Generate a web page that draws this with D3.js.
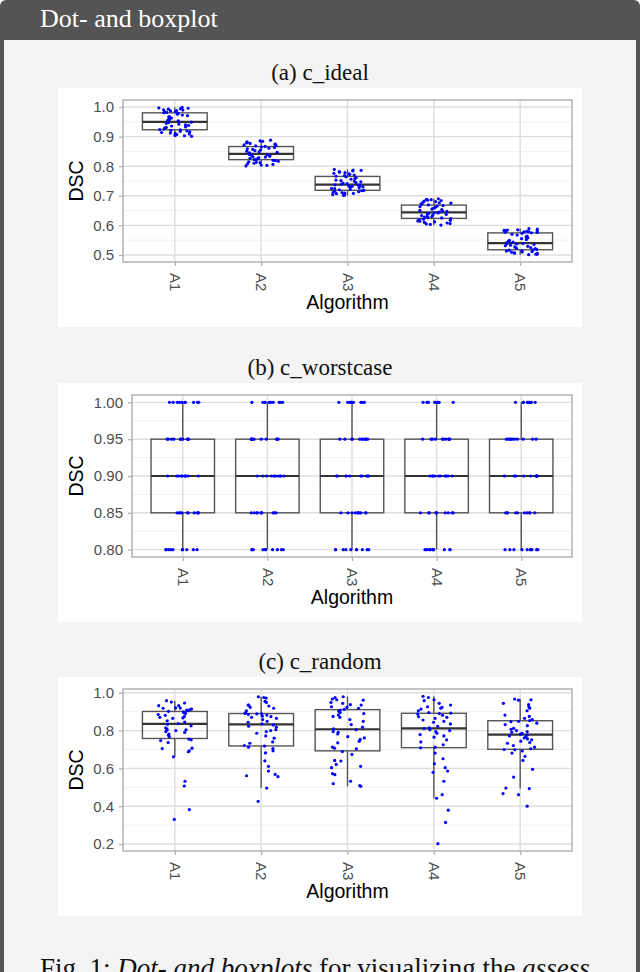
<!DOCTYPE html>
<html>
<head>
<meta charset="utf-8">
<script src="https://cdn.jsdelivr.net/npm/d3@7"></script>
<style>
  body { margin: 0; background: #ffffff; }
  svg { display: block; }
</style>
</head>
<body>
<div id="container"></div>
<script>
let width = 640;
let height = 972;

let sans = "'Liberation Sans', Arial, Helvetica, sans-serif";
let serif = "'Liberation Serif', 'Times New Roman', serif";

let algorithms = ["A1", "A2", "A3", "A4", "A5"];
let panelTitles = ["(a) c_ideal", "(b) c_worstcase", "(c) c_random"];

// c_ideal: DSC per case
let ideal_A1 = [0.901, 0.903, 0.904, 0.907, 0.909, 0.911, 0.912, 0.914, 0.916, 0.918, 0.919, 0.921,
  0.923, 0.924, 0.926, 0.929, 0.931, 0.933, 0.936, 0.938, 0.940, 0.942, 0.945, 0.947,
  0.949, 0.951, 0.953, 0.955, 0.958, 0.961, 0.963, 0.966, 0.968, 0.971, 0.973, 0.976,
  0.979, 0.981, 0.982, 0.984, 0.985, 0.987, 0.988, 0.990, 0.991, 0.993, 0.994, 0.996, 0.997, 0.999];
let ideal_A2 = [0.801, 0.803, 0.804, 0.806, 0.808, 0.810, 0.812, 0.813, 0.815, 0.817, 0.819, 0.820,
  0.822, 0.823, 0.825, 0.827, 0.829, 0.831, 0.832, 0.834, 0.835, 0.837, 0.839, 0.840,
  0.841, 0.843, 0.845, 0.847, 0.849, 0.851, 0.853, 0.855, 0.857, 0.859, 0.861, 0.863,
  0.865, 0.867, 0.869, 0.870, 0.872, 0.874, 0.875, 0.877, 0.879, 0.880, 0.882, 0.884, 0.886, 0.888];
let ideal_A3 = [0.701, 0.702, 0.704, 0.705, 0.707, 0.708, 0.709, 0.711, 0.712, 0.714, 0.715, 0.717,
  0.718, 0.720, 0.722, 0.724, 0.725, 0.727, 0.729, 0.730, 0.732, 0.733, 0.735, 0.736,
  0.737, 0.739, 0.741, 0.743, 0.745, 0.747, 0.749, 0.751, 0.753, 0.756, 0.758, 0.761,
  0.764, 0.766, 0.768, 0.770, 0.772, 0.774, 0.776, 0.778, 0.780, 0.782, 0.784, 0.786, 0.787, 0.789];
let ideal_A4 = [0.601, 0.603, 0.605, 0.606, 0.608, 0.610, 0.612, 0.614, 0.615, 0.617, 0.619, 0.621,
  0.623, 0.625, 0.626, 0.628, 0.630, 0.631, 0.633, 0.635, 0.637, 0.638, 0.640, 0.642,
  0.643, 0.645, 0.647, 0.649, 0.651, 0.653, 0.655, 0.657, 0.659, 0.661, 0.663, 0.665,
  0.667, 0.669, 0.671, 0.673, 0.675, 0.676, 0.678, 0.680, 0.682, 0.684, 0.685, 0.687, 0.688, 0.690];
let ideal_A5 = [0.501, 0.502, 0.503, 0.505, 0.506, 0.507, 0.509, 0.510, 0.511, 0.513, 0.514, 0.516,
  0.517, 0.519, 0.521, 0.523, 0.525, 0.527, 0.529, 0.531, 0.533, 0.535, 0.537, 0.538,
  0.539, 0.541, 0.543, 0.546, 0.549, 0.552, 0.555, 0.558, 0.561, 0.564, 0.567, 0.570,
  0.573, 0.575, 0.576, 0.577, 0.578, 0.579, 0.580, 0.581, 0.582, 0.583, 0.584, 0.585, 0.587, 0.589];

// c_worstcase: the DSC only takes these levels, number of cases on each level
let worstLevels = [0.80, 0.85, 0.90, 0.95, 1.00];
let worstCounts_A1 = [10, 10, 10, 10, 10];
let worstCounts_A2 = [10, 10, 10, 10, 10];
let worstCounts_A3 = [10, 10, 10, 10, 10];
let worstCounts_A4 = [10, 10, 10, 10, 10];
let worstCounts_A5 = [10, 10, 10, 10, 10];

// c_random: DSC per case
let random_A1 = [0.330, 0.382, 0.507, 0.532, 0.661, 0.688, 0.693, 0.705, 0.707, 0.737, 0.747, 0.751,
  0.755, 0.768, 0.775, 0.782, 0.790, 0.795, 0.800, 0.804, 0.805, 0.809, 0.815, 0.825,
  0.833, 0.837, 0.845, 0.852, 0.865, 0.867, 0.870, 0.875, 0.881, 0.885, 0.891, 0.895,
  0.899, 0.902, 0.905, 0.909, 0.911, 0.914, 0.918, 0.919, 0.920, 0.932, 0.932, 0.946, 0.951, 0.958];
let random_A2 = [0.426, 0.496, 0.556, 0.561, 0.568, 0.586, 0.611, 0.640, 0.682, 0.693, 0.705, 0.712,
  0.718, 0.721, 0.733, 0.740, 0.760, 0.772, 0.786, 0.795, 0.800, 0.805, 0.818, 0.823,
  0.830, 0.836, 0.844, 0.849, 0.858, 0.865, 0.870, 0.874, 0.876, 0.882, 0.885, 0.888,
  0.888, 0.891, 0.896, 0.905, 0.918, 0.923, 0.930, 0.935, 0.935, 0.949, 0.954, 0.972, 0.975, 0.979];
let random_A3 = [0.505, 0.509, 0.519, 0.532, 0.567, 0.572, 0.604, 0.611, 0.621, 0.639, 0.642, 0.674,
  0.689, 0.704, 0.707, 0.712, 0.735, 0.744, 0.753, 0.761, 0.768, 0.782, 0.791, 0.795,
  0.805, 0.809, 0.818, 0.832, 0.849, 0.858, 0.870, 0.875, 0.882, 0.890, 0.895, 0.902,
  0.907, 0.912, 0.918, 0.923, 0.926, 0.935, 0.937, 0.944, 0.949, 0.961, 0.963, 0.967, 0.975, 0.979];
let random_A4 = [0.202, 0.314, 0.379, 0.442, 0.461, 0.532, 0.579, 0.586, 0.604, 0.625, 0.651, 0.681,
  0.709, 0.712, 0.725, 0.740, 0.751, 0.765, 0.772, 0.779, 0.786, 0.795, 0.800, 0.805,
  0.810, 0.814, 0.823, 0.835, 0.844, 0.849, 0.856, 0.865, 0.870, 0.874, 0.881, 0.888,
  0.890, 0.892, 0.895, 0.905, 0.914, 0.918, 0.923, 0.926, 0.935, 0.944, 0.958, 0.963, 0.975, 0.981];
let random_A5 = [0.400, 0.461, 0.467, 0.493, 0.496, 0.554, 0.595, 0.642, 0.664, 0.681, 0.692, 0.698,
  0.700, 0.704, 0.712, 0.721, 0.733, 0.737, 0.744, 0.751, 0.756, 0.761, 0.768, 0.772,
  0.777, 0.781, 0.786, 0.791, 0.795, 0.800, 0.807, 0.812, 0.826, 0.832, 0.839, 0.847,
  0.849, 0.853, 0.858, 0.865, 0.875, 0.882, 0.905, 0.918, 0.926, 0.937, 0.944, 0.961, 0.963, 0.967];

// y tick labels of the three panels
let yTicks_ideal = [0.5, 0.6, 0.7, 0.8, 0.9, 1.0];
let yTicks_worst = [0.80, 0.85, 0.90, 0.95, 1.00];
let yTicks_random = [0.2, 0.4, 0.6, 0.8, 1.0];

function expandCounts(counts) {
  let out = [];
  counts.forEach(function (c, i) {
    for (let k = 0; k < c; k++) out.push(worstLevels[i]);
  });
  return out;
}

let panels = [
  { title: panelTitles[0], series: [ideal_A1, ideal_A2, ideal_A3, ideal_A4, ideal_A5],
    ticks: yTicks_ideal, fmt: ".1f", top: 88, left: 123, seed: 0.11 },
  { title: panelTitles[1],
    series: [worstCounts_A1, worstCounts_A2, worstCounts_A3, worstCounts_A4, worstCounts_A5].map(expandCounts),
    ticks: yTicks_worst, fmt: ".2f", top: 383, left: 132, seed: 0.37 },
  { title: panelTitles[2], series: [random_A1, random_A2, random_A3, random_A4, random_A5],
    ticks: yTicks_random, fmt: ".1f", top: 677, left: 123, seed: 0.73 }
];

let svg = d3.select("#container").append("svg")
  .attr("width", width)
  .attr("height", height);

// frame: dark header and border, light body
svg.append("rect").attr("x", 0).attr("y", 0).attr("width", width).attr("height", height + 10)
  .attr("rx", 6).attr("fill", "#545454");
svg.append("rect").attr("x", 4).attr("y", 40).attr("width", width - 8).attr("height", height)
  .attr("fill", "#f4f4f4");
svg.append("text").attr("x", 40).attr("y", 27)
  .attr("fill", "white").attr("font-family", serif).attr("font-size", 26)
  .text("Dot- and boxplot");

function boxStats(values) {
  let s = values.slice().sort(d3.ascending);
  let q1 = d3.quantileSorted(s, 0.25);
  let med = d3.quantileSorted(s, 0.5);
  let q3 = d3.quantileSorted(s, 0.75);
  let iqr = q3 - q1;
  let lo = d3.min(s.filter(v => v >= q1 - 1.5 * iqr));
  let hi = d3.max(s.filter(v => v <= q3 + 1.5 * iqr));
  return { q1, med, q3, lo, hi };
}

function drawPanel(p) {
  let top = p.top;
  let plotTop = top + 12, plotBottom = top + 174;
  let left = p.left, right = 572;

  svg.append("rect").attr("x", 58).attr("y", top).attr("width", 524).attr("height", 239)
    .attr("fill", "white");

  svg.append("text").attr("x", 320).attr("y", top - 8)
    .attr("text-anchor", "middle").attr("font-family", serif).attr("font-size", 23)
    .attr("fill", "#111").text(p.title);

  let all = p.series.flat();
  let ext = d3.extent(all);
  let pad = (ext[1] - ext[0]) * 0.05;
  let y = d3.scaleLinear().domain([ext[0] - pad, ext[1] + pad]).range([plotBottom, plotTop]);
  let x = d3.scalePoint().domain(algorithms).range([left, right]).padding(0.6);
  let step = x.step();

  // grid
  let minor = [];
  for (let i = 0; i < p.ticks.length - 1; i++) minor.push((p.ticks[i] + p.ticks[i + 1]) / 2);
  let grid = svg.append("g");
  grid.selectAll(".minor").data(minor).join("line")
    .attr("x1", left).attr("x2", right)
    .attr("y1", d => y(d)).attr("y2", d => y(d))
    .attr("stroke", "#ececec").attr("stroke-width", 0.8);
  grid.selectAll(".majorY").data(p.ticks).join("line")
    .attr("x1", left).attr("x2", right)
    .attr("y1", d => y(d)).attr("y2", d => y(d))
    .attr("stroke", "#dedede").attr("stroke-width", 1.4);
  grid.selectAll(".majorX").data(algorithms).join("line")
    .attr("x1", d => x(d)).attr("x2", d => x(d))
    .attr("y1", plotTop).attr("y2", plotBottom)
    .attr("stroke", "#dedede").attr("stroke-width", 1.4);

  // boxes
  let half = step * 0.375;
  p.series.forEach(function (vals, i) {
    let st = boxStats(vals);
    let cx = x(algorithms[i]);
    let g = svg.append("g");
    g.append("line").attr("x1", cx).attr("x2", cx).attr("y1", y(st.q3)).attr("y2", y(st.hi))
      .attr("stroke", "#555").attr("stroke-width", 1.4);
    g.append("line").attr("x1", cx).attr("x2", cx).attr("y1", y(st.q1)).attr("y2", y(st.lo))
      .attr("stroke", "#555").attr("stroke-width", 1.4);
    g.append("rect").attr("x", cx - half).attr("width", half * 2)
      .attr("y", y(st.q3)).attr("height", y(st.q1) - y(st.q3))
      .attr("fill", "none").attr("stroke", "#555").attr("stroke-width", 1.4);
    g.append("line").attr("x1", cx - half).attr("x2", cx + half)
      .attr("y1", y(st.med)).attr("y2", y(st.med))
      .attr("stroke", "#333").attr("stroke-width", 2.2);
  });

  // jittered dots
  let jitter = d3.randomUniform.source(d3.randomLcg(p.seed))(-0.2, 0.2);
  let pts = [];
  p.series.forEach(function (vals, i) {
    vals.forEach(function (v) {
      pts.push({ alg: algorithms[i], v: v, j: jitter() });
    });
  });
  svg.append("g").selectAll("circle").data(pts).join("circle")
    .attr("cx", d => x(d.alg) + d.j * step)
    .attr("cy", d => y(d.v))
    .attr("r", 1.6)
    .attr("fill", "#0000ff");

  // panel border
  svg.append("rect").attr("x", left).attr("y", plotTop)
    .attr("width", right - left).attr("height", plotBottom - plotTop)
    .attr("fill", "none").attr("stroke", "#b3b3b3").attr("stroke-width", 1.5);

  // axes
  let yAxis = svg.append("g").attr("transform", `translate(${left},0)`)
    .call(d3.axisLeft(y).tickValues(p.ticks).tickSize(4).tickPadding(5).tickFormat(d3.format(p.fmt)));
  let xAxis = svg.append("g").attr("transform", `translate(0,${plotBottom})`)
    .call(d3.axisBottom(x).tickSize(4));
  [yAxis, xAxis].forEach(function (a) {
    a.select(".domain").remove();
    a.selectAll(".tick line").attr("stroke", "#b3b3b3").attr("stroke-width", 1.3);
    a.selectAll(".tick text").attr("fill", "#4d4d4d")
      .attr("font-family", sans).attr("font-size", 15);
  });
  xAxis.selectAll(".tick text")
    .attr("transform", "rotate(90)")
    .attr("x", 11).attr("y", 0).attr("dy", "0.35em")
    .attr("text-anchor", "start");

  svg.append("text").attr("x", (left + right) / 2).attr("y", top + 221)
    .attr("text-anchor", "middle").attr("font-family", sans).attr("font-size", 19.5)
    .attr("fill", "black").text("Algorithm");
  svg.append("text")
    .attr("transform", `translate(83,${(plotTop + plotBottom) / 2}) rotate(-90)`)
    .attr("text-anchor", "middle").attr("font-family", sans).attr("font-size", 19.5)
    .attr("fill", "black").text("DSC");
}

panels.forEach(drawPanel);

// caption below the figure, cut by the page edge as in the source
let cap = svg.append("text").attr("x", 40).attr("y", 977)
  .attr("font-family", serif).attr("font-size", 27).attr("fill", "#111");
cap.append("tspan").text("Fig. 1: ");
cap.append("tspan").attr("font-style", "italic").text("Dot- and boxplots");
cap.append("tspan").text(" for visualizing the ");
cap.append("tspan").attr("font-style", "italic").text("assess");
</script>
</body>
</html>
